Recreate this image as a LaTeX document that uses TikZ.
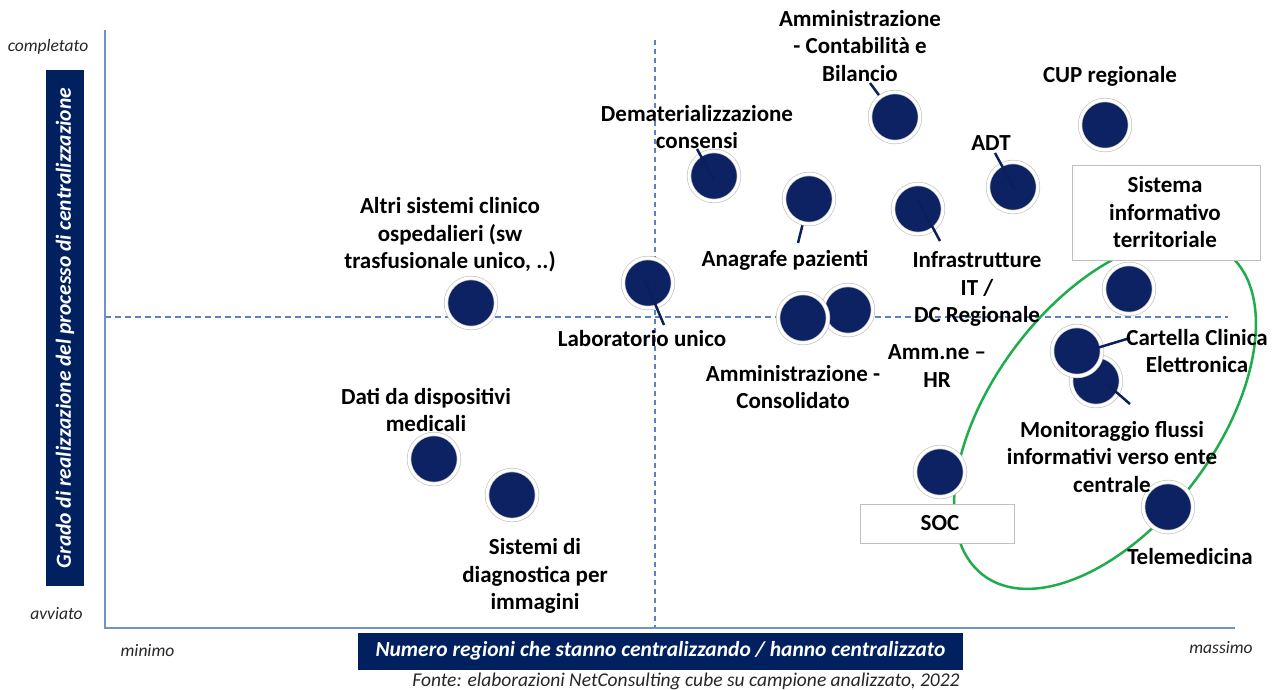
\documentclass[tikz,border=0pt]{standalone}
\usepackage{fontspec}
\setmainfont{Carlito}
\usetikzlibrary{shadows,shapes.geometric}
\definecolor{navy}{HTML}{0D2262}
\definecolor{boxnavy}{HTML}{002060}
\definecolor{axisblue}{HTML}{6F93C9}
\definecolor{dashblue}{HTML}{5B82C0}
\definecolor{ellgreen}{HTML}{1FAD4B}
\definecolor{leader}{HTML}{0B1F5C}
\tikzset{
  bubble/.style={circle, minimum size=50pt, inner sep=0pt, fill=navy,
    draw=gray!45, line width=0.7pt, double=white, double distance=3pt,
    drop shadow={shadow xshift=1.5pt, shadow yshift=-1.5pt, opacity=0.35}},
  lbl/.style={font=\bfseries\fontsize{23}{27.5}\selectfont, align=center, inner sep=0pt, text=black},
  axlbl/.style={font=\itshape\fontsize{17.5}{20}\selectfont, text=black!85, inner sep=0pt},
  lead/.style={leader, line width=2.5pt},
  whitebox/.style={draw=gray!50, fill=white, line width=0.8pt, inner sep=0pt},
  navybox/.style={fill=boxnavy, text=white, inner sep=0pt, font=\itshape\bfseries\fontsize{21.5}{24}\selectfont}
}
\begin{document}
\begin{tikzpicture}[x=1pt,y=-1pt]
\useasboundingbox (0,0) rectangle (1279,690);
% reference lines
\coordinate (hl) at (105,317);
\coordinate (hr) at (1228,317);
\coordinate (vt) at (655,40);
\coordinate (vb) at (655,628);
\draw[dashblue, line width=1.4pt, dash pattern=on 6pt off 4pt] (hl) -- (hr);
\draw[dashblue, line width=1.2pt, dash pattern=on 5pt off 4pt] (vt) -- (vb);
% axes
\coordinate (ot) at (105,30);
\coordinate (o) at (105,628);
\coordinate (or) at (1235,628);
\draw[axisblue, line width=2pt] (ot) -- (o) -- (or);
% axis labels
\node[axlbl] (compl) at (48,47) {completato};
\node[axlbl] (avv) at (56.5,614) {avviato};
\node[axlbl] (minimo) at (147.5,651) {minimo};
\node[axlbl] (massimo) at (1221,648) {massimo};
\node[navybox, rotate=90, minimum width=516pt, minimum height=38pt] (ybox) at (65,328) {Grado di realizzazione del processo di centralizzazione};
\node[navybox, minimum width=605pt, minimum height=37pt] (xbox) at (660.5,651) {Numero regioni che stanno centralizzando / hanno centralizzato};
\node[font=\itshape\fontsize{19.5}{22}\selectfont, text=black!85, inner sep=0pt] (fonte) at (686,681) {Fonte: elaborazioni NetConsulting cube su campione analizzato, 2022};
% green ellipse
\node[draw=ellgreen, line width=2.5pt, ellipse, minimum width=404pt, minimum height=224pt, inner sep=0pt, rotate=53] (ell) at (1105,414) {};
% leaders drawn beneath bubbles
\coordinate (lcont) at (870,83);
\coordinate (lanag) at (798,243);
\draw[lead] (lcont) -- (895,117);
\draw[lead] (lanag) -- (809,199);
% bubbles
\node[bubble] (bcont) at (895,117) {};
\node[bubble] (bcup) at (1105,125) {};
\node[bubble] (bdem) at (714,176) {};
\node[bubble] (banag) at (809,199) {};
\node[bubble] (binfra) at (918,209) {};
\node[bubble] (badt) at (1013,187) {};
\node[bubble] (baltri) at (471,303) {};
\node[bubble] (blab) at (648,283) {};
\node[bubble] (bcons2) at (848,310) {};
\node[bubble] (bcons1) at (803,318) {};
\node[bubble] (bsit) at (1129,289) {};
\node[bubble] (bmon) at (1096,381) {};
\node[bubble] (bcart) at (1077,351) {};
\node[bubble] (bsoc) at (940,472) {};
\node[bubble] (btele) at (1168,507) {};
\node[bubble] (bdati) at (434,459) {};
\node[bubble] (bdiag) at (512,495) {};
% leaders drawn over bubbles
\coordinate (ldem) at (697,149);
\coordinate (linfra) at (940,241);
\coordinate (ladt) at (995,153);
\coordinate (llab) at (664,325);
\coordinate (lcart) at (1130,338);
\coordinate (lmon) at (1130,404);
\draw[lead] (ldem) -- ([shift={(0,4)}]bdem.center);
\draw[lead] ([shift={(0,-9)}]binfra.center) -- (linfra);
\draw[lead] (ladt) -- ([shift={(2,3)}]badt.center);
\draw[lead] ([shift={(-3,-3)}]blab.center) -- (llab);
\draw[lead] ([shift={(20,-3)}]bcart.center) -- (lcart);
\draw[lead] ([shift={(12,4)}]bmon.center) -- (lmon);
% boxes
\node[whitebox, minimum width=188pt, minimum height=95pt] (sitbox) at (1166,212.5) {};
\node[lbl] (tsit) at (1165,212.5) {Sistema\\informativo\\territoriale};
\node[whitebox, minimum width=154pt, minimum height=39pt] (socbox) at (937,523.5) {};
\node[lbl] (tsoc) at (940,523) {SOC};
% labels
\node[lbl] (tcont) at (860,46) {Amministrazione\\- Contabilità e\\Bilancio};
\node[lbl] (tcup) at (1110,76) {CUP regionale};
\node[lbl] (tdem) at (697,127) {Dematerializzazione\\consensi};
\node[lbl] (tadt) at (991,143) {ADT};
\node[lbl] (taltri) at (450,235) {Altri sistemi clinico\\ospedalieri (sw\\trasfusionale unico, ..)};
\node[lbl] (tanag) at (785,260) {Anagrafe pazienti};
\node[lbl] (tinfra) at (977,289) {Infrastrutture\\IT /\\DC Regionale};
\node[lbl] (tlab) at (642,339) {Laboratorio unico};
\node[lbl] (tcons) at (793,387) {Amministrazione -\\Consolidato};
\node[lbl] (thr) at (937,366) {Amm.ne –\\HR};
\node[lbl] (tcart) at (1197,351) {Cartella Clinica\\Elettronica};
\node[lbl] (tdati) at (426,410) {Dati da dispositivi\\medicali};
\node[lbl] (tmon) at (1112,457) {Monitoraggio flussi\\informativi verso ente\\centrale};
\node[lbl] (tdiag) at (535,576) {Sistemi di\\diagnostica per\\immagini};
\node[lbl] (ttele) at (1190,557) {Telemedicina};
\end{tikzpicture}
\end{document}
